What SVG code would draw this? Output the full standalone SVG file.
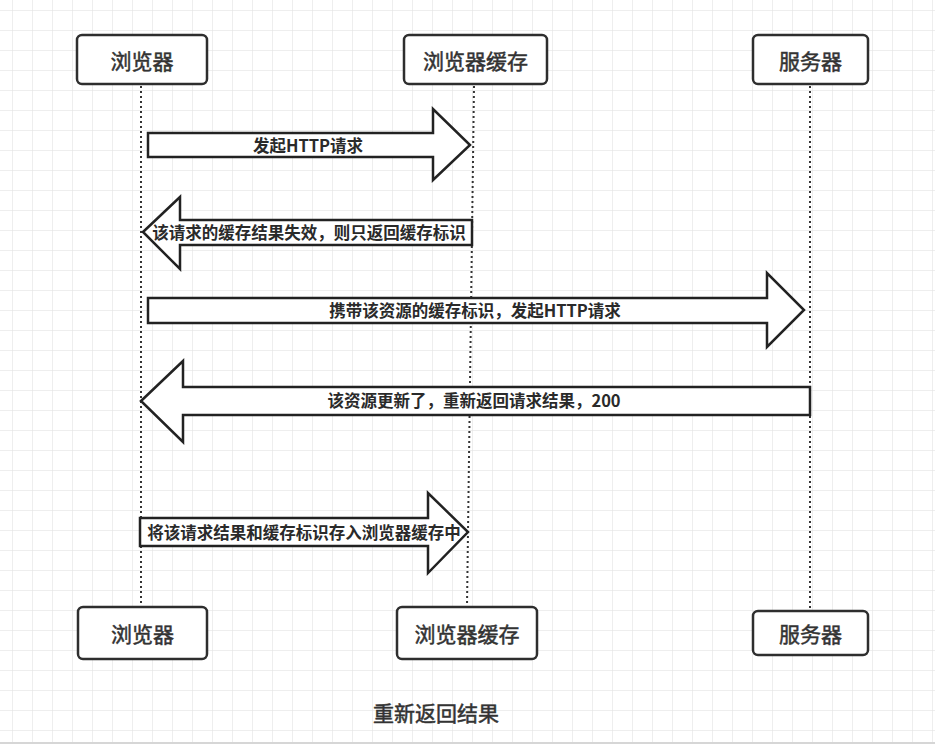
<svg xmlns="http://www.w3.org/2000/svg" width="935" height="746" viewBox="0 0 935 746">
  <style>
    .box { fill: #ffffff; stroke: #2e2e2e; stroke-width: 2.5; }
    .blabel { font-family: "Noto Sans CJK SC", "Noto Sans", sans-serif; font-size: 21px; fill: #333333; stroke: #333333; stroke-width: 0.5; text-anchor: middle; dominant-baseline: central; }
    .life { stroke: #333333; stroke-width: 2; stroke-dasharray: 2 3; fill: none; }
    .arrow { fill: #ffffff; stroke: #222222; stroke-width: 2.5; stroke-linejoin: miter; }
    .alabel { font-family: "Noto Sans CJK SC", "Noto Sans", sans-serif; font-size: 16.5px; font-weight: bold; fill: #2a2a2a; text-anchor: middle; dominant-baseline: central; }
    .title { font-family: "Noto Sans CJK SC", "Noto Sans", sans-serif; font-size: 21px; fill: #333333; stroke: #333333; stroke-width: 0.5; text-anchor: middle; dominant-baseline: central; }
  </style>
  <defs>
    <pattern id="grid" x="12" y="10" width="20" height="20" patternUnits="userSpaceOnUse">
      <path d="M 20 0 L 0 0 0 20" fill="none" stroke="#dedede" stroke-width="1"/>
    </pattern>
  </defs>
  <rect x="0" y="0" width="935" height="746" fill="#ffffff"/>
  <rect x="0" y="0" width="935" height="742" fill="url(#grid)"/>
  <line x1="0" y1="743" x2="935" y2="743" stroke="#d6d6d6" stroke-width="2"/>

  <g id="lifelines">
    <line class="life" x1="141" y1="86" x2="141" y2="606"/>
    <line class="life" x1="474" y1="86" x2="467" y2="606"/>
    <line class="life" x1="810" y1="86" x2="810" y2="611"/>
  </g>

  <g id="browser-top">
    <rect class="box" x="77" y="35" width="130" height="49" rx="5"/>
    <text class="blabel" x="142" y="60">浏览器</text>
  </g>
  <g id="cache-top">
    <rect class="box" x="404" y="35" width="143" height="49" rx="5"/>
    <text class="blabel" x="475.5" y="60">浏览器缓存</text>
  </g>
  <g id="server-top">
    <rect class="box" x="753" y="35" width="115" height="49" rx="5"/>
    <text class="blabel" x="810.5" y="60">服务器</text>
  </g>

  <g id="connectors">
    <g id="msg1">
      <polygon class="arrow" points="148,133 433,133 433,109 470,145 433,180 433,157 148,157"/>
      <text class="alabel" x="308" y="145">发起HTTP请求</text>
    </g>
    <g id="msg2">
      <polygon class="arrow" points="143,232 180,197 180,220 472,220 472,245 180,245 180,269"/>
      <text class="alabel" x="309" y="232">该请求的缓存结果失效，则只返回缓存标识</text>
    </g>
    <g id="msg3">
      <polygon class="arrow" points="148,298 767,298 767,273 804,310 767,347 767,323 148,323"/>
      <text class="alabel" x="475" y="310">携带该资源的缓存标识，发起HTTP请求</text>
    </g>
    <g id="msg4">
      <polygon class="arrow" points="141,401 183,361 183,387 810,387 810,415 183,415 183,442"/>
      <text class="alabel" x="474" y="400">该资源更新了，重新返回请求结果，200</text>
    </g>
    <g id="msg5">
      <polygon class="arrow" points="140,518 428,518 428,493 468,532 428,573 428,546 140,546"/>
      <text class="alabel" x="304" y="532">将该请求结果和缓存标识存入浏览器缓存中</text>
    </g>
  </g>

  <g id="browser-bottom">
    <rect class="box" x="78" y="607" width="129" height="52" rx="5"/>
    <text class="blabel" x="142.5" y="633">浏览器</text>
  </g>
  <g id="cache-bottom">
    <rect class="box" x="397" y="607" width="140" height="52" rx="5"/>
    <text class="blabel" x="467" y="633">浏览器缓存</text>
  </g>
  <g id="server-bottom">
    <rect class="box" x="753" y="611" width="115" height="44" rx="5"/>
    <text class="blabel" x="810.5" y="633">服务器</text>
  </g>

  <g id="caption">
    <text class="title" x="436" y="712">重新返回结果</text>
  </g>
</svg>
